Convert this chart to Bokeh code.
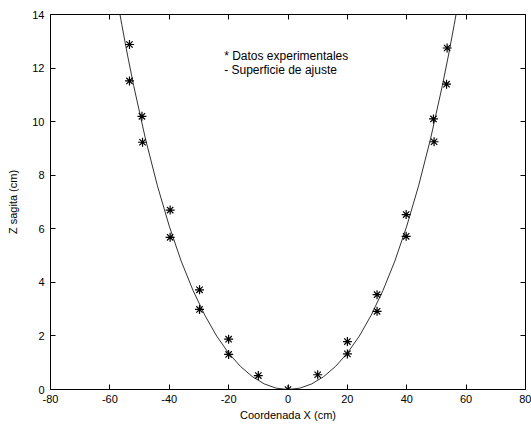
from bokeh.plotting import figure
from bokeh.models import Range1d, FixedTicker, LinearAxis, Label, CustomJSTickFormatter
from bokeh.embed import file_html
from bokeh.resources import INLINE

x_data = [-53.4, -53.4, -49.2, -49.0, -39.7, -39.7, -29.8, -29.8, -20.0, -20.0, -10.0,
          0.0, 10.0, 20.0, 20.0, 30.0, 30.0, 39.8, 39.8, 49.0, 49.2, 53.6, 53.4]
z_data = [12.88, 11.52, 10.20, 9.23, 6.70, 5.68, 3.72, 2.99, 1.88, 1.31, 0.52,
          0.0, 0.55, 1.79, 1.33, 3.54, 2.92, 6.53, 5.72, 10.10, 9.25, 12.75, 11.40]

# Fitted surface
x_fit = [-56.6, -56, -54, -52, -48, -44, -40, -36, -32, -28, -24, -20, -16, -12, -8, -4, 0,
         4, 8, 12, 16, 20, 24, 28, 32, 36, 40, 44, 48, 52, 54, 56, 56.6]
z_fit = [14.0, 13.63, 12.45, 11.35, 9.35, 7.61, 6.10, 4.80, 3.70, 2.77, 1.99, 1.36, 0.86, 0.48, 0.21, 0.05, 0.0,
         0.05, 0.21, 0.48, 0.86, 1.36, 1.99, 2.77, 3.70, 4.80, 6.10, 7.61, 9.35, 11.35, 12.45, 13.63, 14.0]

x_ticks = [-80, -60, -40, -20, 0, 20, 40, 60, 80]
y_ticks = [0, 2, 4, 6, 8, 10, 12, 14]

FONT = "Liberation Sans"

p = figure(width=531, height=430, x_range=Range1d(-80, 80), y_range=Range1d(0, 14),
           output_backend="svg", toolbar_location=None,
           min_border_left=50, min_border_right=6, min_border_top=14, min_border_bottom=41)
p.background_fill_color = "white"
p.border_fill_color = "white"
p.xgrid.visible = False
p.ygrid.visible = False
p.outline_line_color = "black"
p.outline_line_width = 1

plain = CustomJSTickFormatter(code="return String(tick);")

for ax, ticks in ((p.xaxis[0], x_ticks), (p.yaxis[0], y_ticks)):
    ax.ticker = FixedTicker(ticks=ticks)
    ax.formatter = plain
    ax.major_tick_in = 5
    ax.major_tick_out = 0
    ax.minor_tick_line_color = None
    ax.axis_line_color = "black"
    ax.major_tick_line_color = "black"
    ax.major_label_text_font = FONT
    ax.major_label_text_font_size = "11px"
    ax.major_label_text_color = "black"
    ax.axis_label_text_font = FONT
    ax.axis_label_text_font_size = "11px"
    ax.axis_label_text_font_style = "normal"
    ax.axis_label_text_color = "black"

p.xaxis.axis_label = "Coordenada X (cm)"
p.yaxis.axis_label = "Z sagita (cm)"
p.xaxis.major_label_standoff = 5
p.xaxis.axis_label_standoff = 3
p.yaxis.major_label_standoff = 6
p.yaxis.axis_label_standoff = 10

blank = CustomJSTickFormatter(code="return '';")
top = LinearAxis(ticker=FixedTicker(ticks=x_ticks), formatter=blank, major_tick_in=5, major_tick_out=0,
                 minor_tick_line_color=None, major_label_text_font_size="1px",
                 major_label_standoff=0, axis_line_color="black")
right = LinearAxis(ticker=FixedTicker(ticks=y_ticks), formatter=blank, major_tick_in=5, major_tick_out=0,
                   minor_tick_line_color=None, major_label_text_font_size="1px",
                   major_label_standoff=0, axis_line_color="black")
p.add_layout(top, "above")
p.add_layout(right, "right")

p.line(x_fit, z_fit, line_color="#333333", line_width=1)
p.scatter(x_data, z_data, marker="asterisk", size=9, line_color="black", line_width=1.2)

p.add_layout(Label(x=-21.5, y=12.72, text="* Datos experimentales", text_font=FONT,
                   text_font_size="12px", text_baseline="top", text_color="black"))
p.add_layout(Label(x=-21.5, y=12.2, text="- Superficie de ajuste", text_font=FONT,
                   text_font_size="12px", text_baseline="top", text_color="black"))

open("out.html", "w").write(file_html(p, INLINE))
